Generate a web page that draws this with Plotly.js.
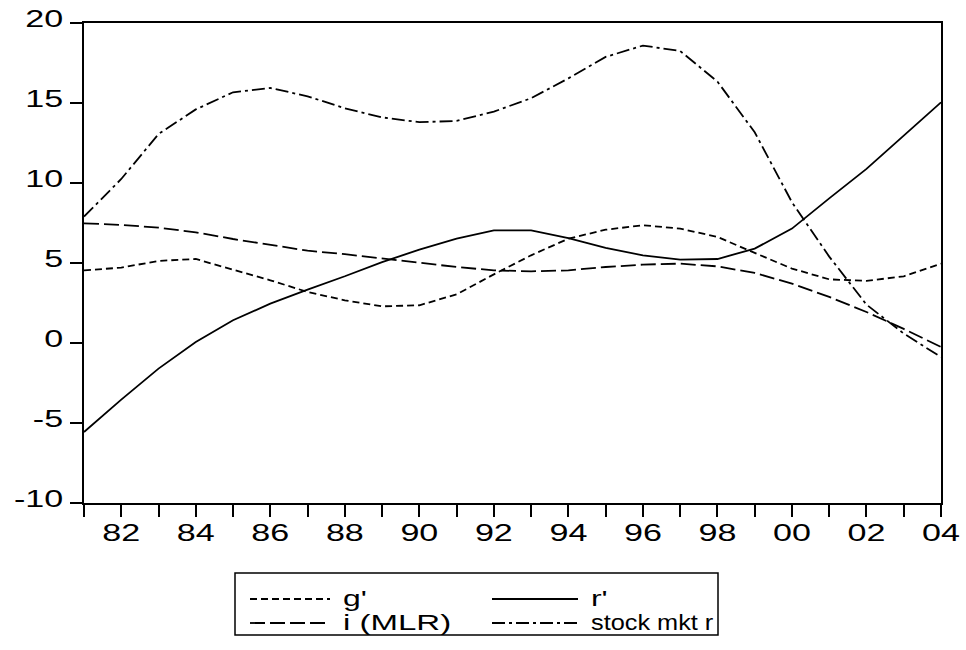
<!DOCTYPE html>
<html>
<head>
<meta charset="utf-8">
<script src="https://cdn.plot.ly/plotly-3.0.1.min.js"></script>
<style>html,body{margin:0;padding:0;background:#fff;}#chart{width:966px;height:650px;}</style>
</head>
<body>
<div id="chart"></div>
<script>
// ---- data ----
const years = [1981,1982,1983,1984,1985,1986,1987,1988,1989,1990,1991,1992,1993,1994,1995,1996,1997,1998,1999,2000,2001,2002,2003,2004];
const xTickLabels = ["","82","","84","","86","","88","","90","","92","","94","","96","","98","","00","","02","","04"];
const yTickVals = [-10,-5,0,5,10,15,20];
const yTickLabels = ["-10","-5","0","5","10","15","20"];
const seriesNames = ["g'","r'","i (MLR)","stock mkt r"];
const gPrime = [4.54,4.71,5.13,5.25,4.58,3.92,3.19,2.67,2.29,2.36,3.04,4.29,5.48,6.52,7.08,7.36,7.15,6.63,5.63,4.65,3.98,3.88,4.17,4.96];
const rPrime = [-5.56,-3.54,-1.6,0.06,1.42,2.46,3.34,4.17,5.06,5.83,6.52,7.04,7.04,6.56,5.94,5.48,5.21,5.25,5.9,7.15,9.04,10.88,12.96,15.04];
const iMLR = [7.48,7.38,7.21,6.92,6.5,6.15,5.77,5.55,5.29,5.03,4.75,4.54,4.48,4.54,4.75,4.9,4.96,4.79,4.38,3.71,2.88,1.94,0.88,-0.25];
const stockR = [7.9,10.25,13.06,14.6,15.67,15.94,15.42,14.67,14.1,13.8,13.88,14.46,15.3,16.54,17.88,18.59,18.25,16.34,13.17,8.8,5.4,2.4,0.59,-0.88];

// ---- styles ----
const dashes = ["7px,4px", "solid", "15px,5px", "13px,4px,3px,4px"];
const seriesData = [gPrime, rPrime, iMLR, stockR];
const FONT = "Liberation Sans, Arial, sans-serif";

const traces = seriesData.map((ys, k) => ({
  x: years, y: ys, name: seriesNames[k], type: 'scatter', mode: 'lines',
  line: {color: '#000', width: 1.8, dash: dashes[k]}, hoverinfo: 'skip'
}));

// pixel -> paper helpers (plot area 84..941 x, 23..503 y)
const L = 84, R = 25, T = 23, B = 147, W = 966, H = 650;
const PW = W - L - R, PH = H - T - B;
const px = x => (x - L) / PW;
const py = y => (H - B - y) / PH;

const shapes = [{type: 'rect', xref: 'paper', yref: 'paper', x0: px(235), x1: px(718), y0: py(573), y1: py(635),
  line: {color: '#000', width: 1.5}, fillcolor: 'rgba(0,0,0,0)'}];
const annotations = [];
const legendPos = [[250, 330, 342, 599], [492, 578, 590, 599], [250, 330, 342, 623], [492, 578, 590, 623]];
legendPos.forEach((p, k) => {
  shapes.push({type: 'line', xref: 'paper', yref: 'paper', x0: px(p[0]), x1: px(p[1]), y0: py(p[3]), y1: py(p[3]),
    line: {color: '#000', width: 1.8, dash: dashes[k]}});
  annotations.push({xref: 'paper', yref: 'paper', x: px(p[2]), y: py(p[3] - 1), xanchor: 'left', yanchor: 'middle',
    align: 'left', text: seriesNames[k], showarrow: false, borderpad: 0,
    font: {family: FONT, size: 22, color: '#000'}});
});

const axisCommon = {
  showline: true, linewidth: 2, linecolor: '#000', mirror: true, showgrid: false, zeroline: false,
  ticks: 'outside', ticklen: 12, tickwidth: 2, tickcolor: '#000',
  tickfont: {family: FONT, size: 24, color: '#000'}
};

const layout = {
  width: W, height: H, margin: {l: L, r: R, t: T, b: B, pad: 0},
  paper_bgcolor: '#fff', plot_bgcolor: '#fff', showlegend: false,
  xaxis: Object.assign({}, axisCommon, {range: [1981, 2004], tickmode: 'array', tickvals: years, ticktext: xTickLabels, ticklabelstandoff: -5}),
  yaxis: Object.assign({}, axisCommon, {range: [-10, 20], tickmode: 'array', tickvals: yTickVals, ticktext: yTickLabels, ticklabelstandoff: 2}),
  shapes: shapes, annotations: annotations
};

function stretch(sel, f, dy) {
  document.querySelectorAll(sel).forEach(t => {
    const w = t.getComputedTextLength();
    if (w > 0) {
      t.setAttribute('textLength', (w * f).toFixed(2));
      t.setAttribute('lengthAdjust', 'spacingAndGlyphs');
    }
    if (dy) t.setAttribute('y', (parseFloat(t.getAttribute('y') || 0) + dy).toFixed(2));
  });
}

// legend labels: keep the left edge fixed, widen to the reference's wide lettering
const legendTargetScale = {"g'": 1.45, "r'": 1.45, "i (MLR)": 1.5, "stock mkt r": 1.15};
function stretchLegend() {
  document.querySelectorAll('.annotation-text').forEach(t => {
    const bb = t.getBBox();
    const w = t.getComputedTextLength();
    const f = legendTargetScale[t.textContent] || 1.3;
    t.setAttribute('text-anchor', 'start');
    t.setAttribute('x', bb.x.toFixed(2));
    t.setAttribute('textLength', (w * f).toFixed(2));
    t.setAttribute('lengthAdjust', 'spacingAndGlyphs');
  });
}

Plotly.newPlot('chart', traces, layout, {staticPlot: true, displayModeBar: false}).then(() => {
  stretch('.xtick text', 1.42, 0);
  stretch('.ytick text', 1.42, -4);
  stretchLegend();
});
</script>
</body>
</html>
